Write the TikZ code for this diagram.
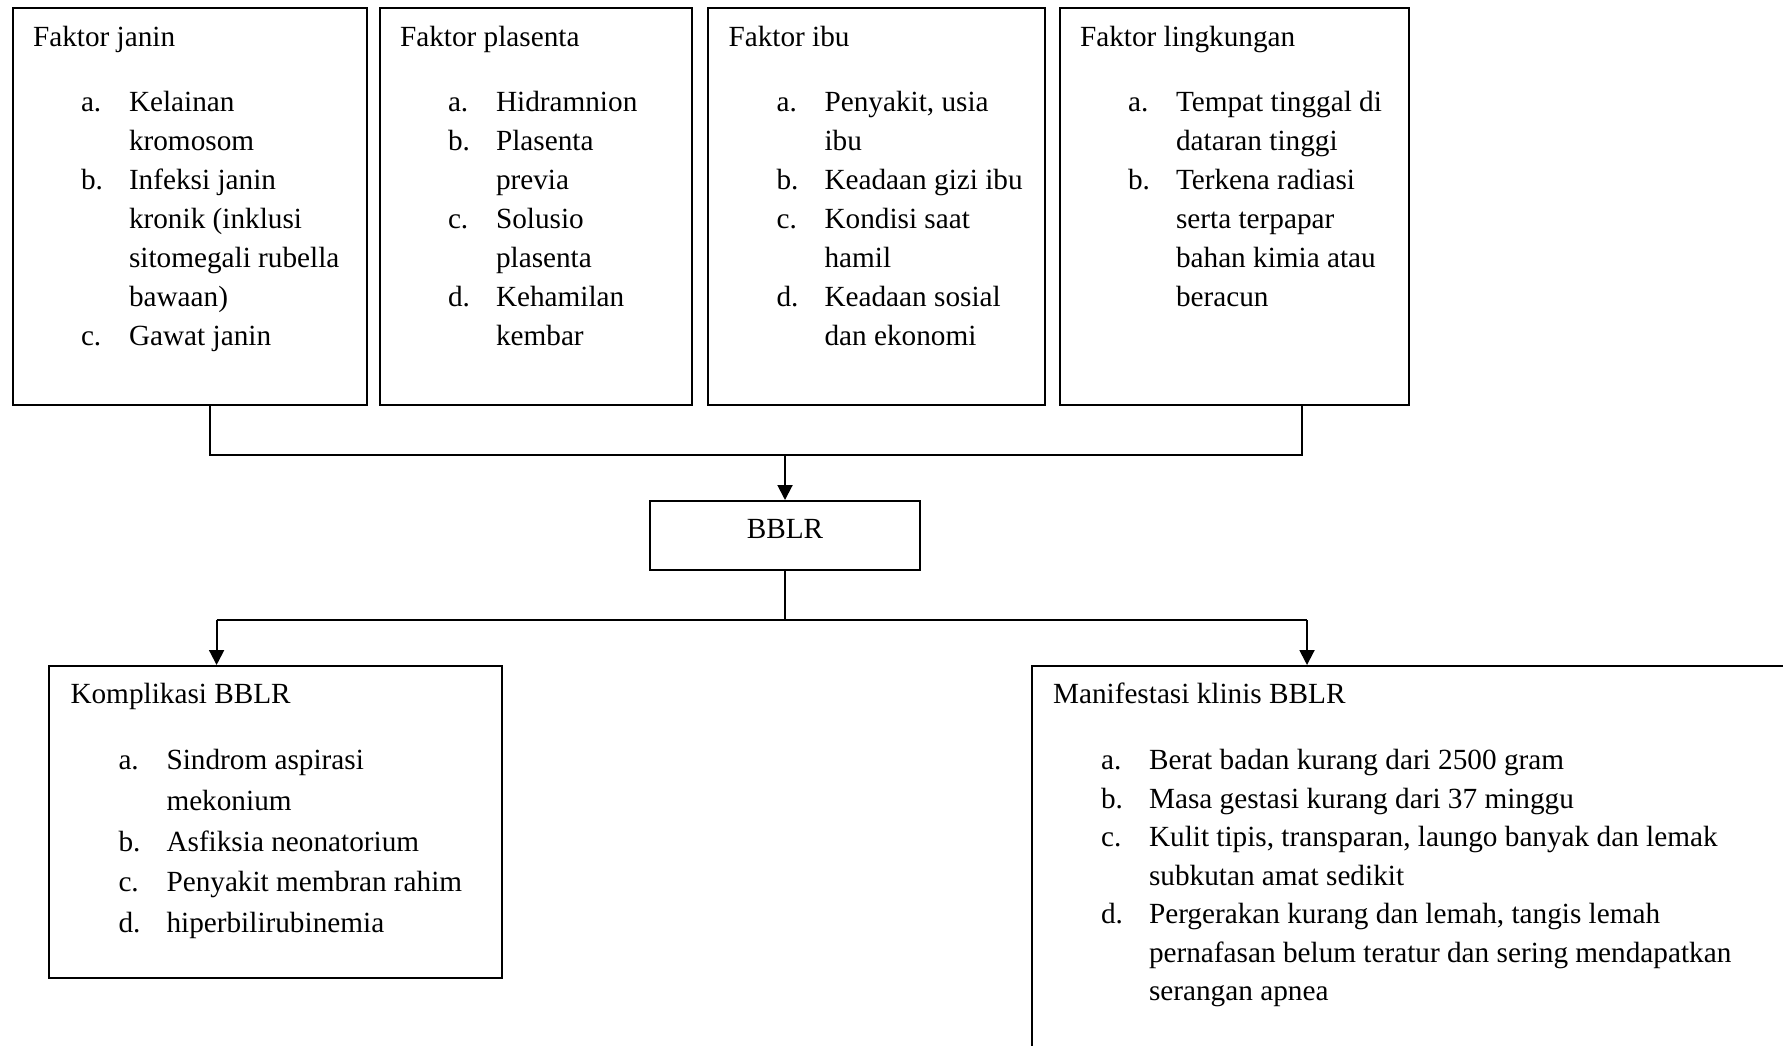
\documentclass[tikz,border=0pt]{standalone}
\usepackage{fontspec}
\setmainfont{Liberation Serif}
\usetikzlibrary{arrows.meta,positioning}
\newlength{\px}\setlength{\px}{0.4pt}
\newcommand{\butir}[2]{\hspace*{48\px}\makebox[48\px][l]{#1}#2}
\newcommand{\lanjut}[1]{\hspace*{96\px}#1}

\begin{document}
\begin{tikzpicture}[x=0.4pt,y=-0.4pt,line width=0.8pt,>={Triangle[length=6pt,width=6pt]},
  every node/.style={font=\fontsize{11.7pt}{15.6pt}\selectfont},
  kotak/.style={draw,rectangle,inner sep=0pt,anchor=north west},
  isi/.style={anchor=north west,inner sep=0pt,align=left}]

\useasboundingbox (0,0) rectangle (1783,1045);
\clip (0,0) rectangle (1783,1045);

\node[kotak,minimum width=354.5\px,minimum height=396.5\px] (janin) at (11.5,7.5) {};
\node[kotak,minimum width=312.5\px,minimum height=396.5\px] (plasenta) at (378.5,7.5) {};
\node[kotak,minimum width=337\px,minimum height=396.5\px] (ibu) at (707,7.5) {};
\node[kotak,minimum width=349\px,minimum height=396.5\px] (lingkungan) at (1058.5,7.5) {};

\node[isi] (janinisi) at ([shift={(20.5,17.5)}]janin.north west) {Faktor janin\\[26\px]
  \butir{a.}{Kelainan}\\
  \lanjut{kromosom}\\
  \butir{b.}{Infeksi janin}\\
  \lanjut{kronik (inklusi}\\
  \lanjut{sitomegali rubella}\\
  \lanjut{bawaan)}\\
  \butir{c.}{Gawat janin}};
\node[isi] (plasentaisi) at ([shift={(20.5,17.5)}]plasenta.north west) {Faktor plasenta\\[26\px]
  \butir{a.}{Hidramnion}\\
  \butir{b.}{Plasenta}\\
  \lanjut{previa}\\
  \butir{c.}{Solusio}\\
  \lanjut{plasenta}\\
  \butir{d.}{Kehamilan}\\
  \lanjut{kembar}};
\node[isi] (ibuisi) at ([shift={(20.5,17.5)}]ibu.north west) {Faktor ibu\\[26\px]
  \butir{a.}{Penyakit, usia}\\
  \lanjut{ibu}\\
  \butir{b.}{Keadaan gizi ibu}\\
  \butir{c.}{Kondisi saat}\\
  \lanjut{hamil}\\
  \butir{d.}{Keadaan sosial}\\
  \lanjut{dan ekonomi}};
\node[isi] (lingkunganisi) at ([shift={(20.5,17.5)}]lingkungan.north west) {Faktor lingkungan\\[26\px]
  \butir{a.}{Tempat tinggal di}\\
  \lanjut{dataran tinggi}\\
  \butir{b.}{Terkena radiasi}\\
  \lanjut{serta terpapar}\\
  \lanjut{bahan kimia atau}\\
  \lanjut{beracun}};

\node[kotak,minimum width=270\px,text height=37\px,text depth=32\px] (bblr) at (649,500) {BBLR};

\node[kotak,minimum width=453\px,minimum height=312\px] (komplikasi) at (48,665) {};
\node[kotak,minimum width=800\px,minimum height=450\px] (manifestasi) at (1031,665) {};

\node[isi,font=\fontsize{11.7pt}{16.24pt}\selectfont] (komplikasiisi) at ([shift={(21.5,17)}]komplikasi.north west) {Komplikasi BBLR\\[26\px]
  \butir{a.}{Sindrom aspirasi}\\
  \lanjut{mekonium}\\
  \butir{b.}{Asfiksia neonatorium}\\
  \butir{c.}{Penyakit membran rahim}\\
  \butir{d.}{hiperbilirubinemia}};
\node[isi,font=\fontsize{11.7pt}{15.4pt}\selectfont] (manifestasiisi) at ([shift={(21,17)}]manifestasi.north west) {Manifestasi klinis BBLR\\[27.5\px]
  \butir{a.}{Berat badan kurang dari 2500 gram}\\
  \butir{b.}{Masa gestasi kurang dari 37 minggu}\\
  \butir{c.}{Kulit tipis, transparan, laungo banyak dan lemak}\\
  \lanjut{subkutan amat sedikit}\\
  \butir{d.}{Pergerakan kurang dan lemah, tangis lemah}\\
  \lanjut{pernafasan belum teratur dan sering mendapatkan}\\
  \lanjut{serangan apnea}};

\coordinate (kiriatas) at (210,455);
\coordinate (kananatas) at (1301.5,455);
\coordinate (kiribawah) at (216.6,620);
\coordinate (kananbawah) at (1307,620);

\draw (kiriatas |- janin.south) -- (kiriatas) -- (kananatas) -- (kananatas |- lingkungan.south);
\draw[->] (bblr.north |- kiriatas) -- (bblr.north);
\draw (bblr.south) -- (bblr.south |- kiribawah);
\draw (kiribawah) -- (kananbawah);
\draw[->] (kiribawah) -- (kiribawah |- komplikasi.north);
\draw[->] (kananbawah) -- (kananbawah |- manifestasi.north);

\end{tikzpicture}
\end{document}
